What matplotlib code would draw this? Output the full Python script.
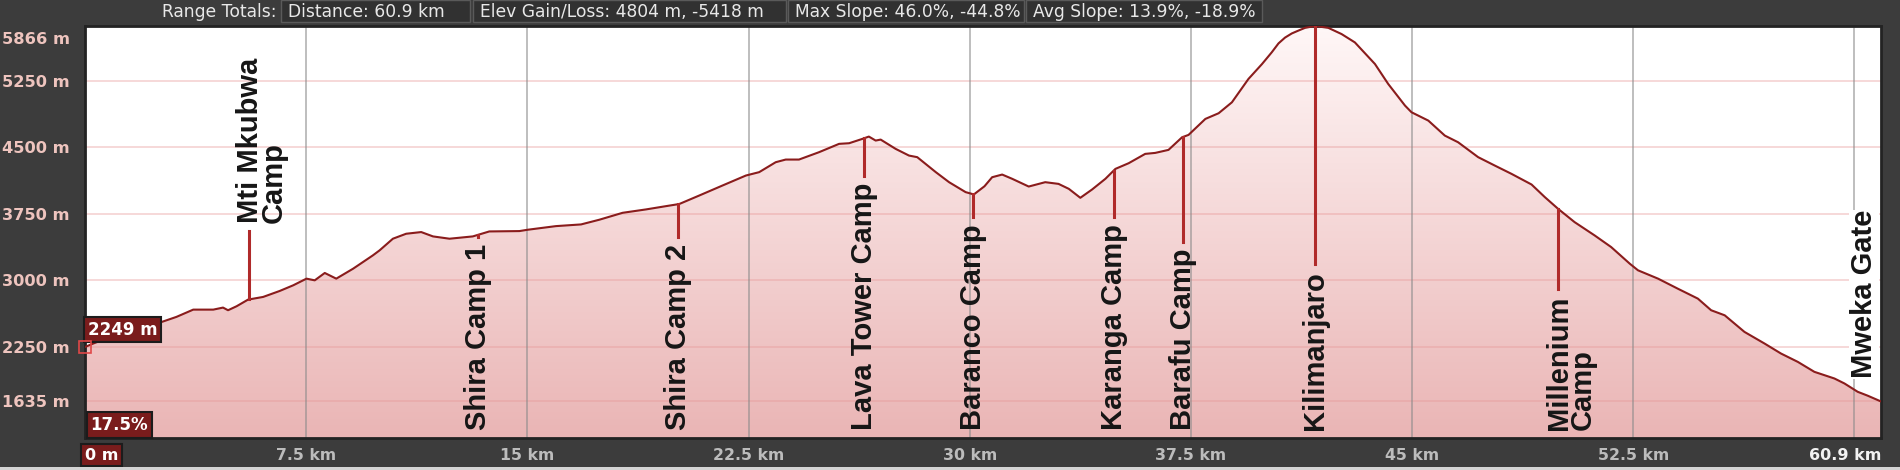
import matplotlib
matplotlib.use('Agg')
import matplotlib.pyplot as plt
import matplotlib.transforms as mtransforms
from matplotlib.patches import Rectangle, Polygon
from matplotlib.colors import to_rgb
import numpy as np

# Elevation profile (distance km, elevation m)
dist_km = [0.0, 0.28, 1.0, 1.8, 2.6, 3.1, 3.67, 4.35, 4.68, 4.85, 5.14, 5.53, 6.04, 6.6,
           7.06, 7.51, 7.79, 8.13, 8.52, 9.09, 9.76, 9.99, 10.44, 10.89, 11.4, 11.8,
           12.36, 13.15, 13.71, 14.73, 15.01, 15.97, 16.82, 17.44, 18.23, 19.02, 19.7,
           20.15, 20.83, 21.62, 22.41, 22.86, 23.42, 23.76, 24.21, 24.89, 25.57, 25.91,
           26.36, 26.58, 26.81, 26.98, 27.49, 27.94, 28.22, 28.85, 29.3, 29.86, 30.14,
           30.5, 30.76, 31.1, 31.44, 32.0, 32.56, 33.01, 33.36, 33.75, 34.15, 34.6,
           34.94, 35.39, 35.95, 36.29, 36.74, 37.2, 37.42, 37.99, 38.44, 38.89, 39.45,
           39.91, 40.24, 40.47, 40.69, 40.92, 41.15, 41.37, 41.71, 42.16, 42.61, 43.06,
           43.74, 44.19, 44.76,
           44.98, 45.55, 46.11, 46.56, 47.24, 47.8, 48.37, 49.05, 49.5, 49.95, 50.51,
           51.19, 51.75, 52.38, 52.66, 53.34, 54.01, 54.69, 55.14, 55.6, 56.27, 56.95,
           57.51, 58.08, 58.64, 59.32, 59.66, 60.11, 60.45, 60.9]
elev_m = [2249, 2288, 2380, 2460, 2531, 2588, 2670, 2670, 2693, 2663, 2708, 2783, 2813, 2880,
          2944, 3019, 3000, 3083, 3019, 3131, 3281, 3338, 3469, 3525, 3544, 3495,
          3469, 3495, 3551, 3555, 3570, 3611, 3630, 3683, 3761, 3799, 3836,
          3860, 3956, 4069, 4181, 4219, 4331, 4361, 4361, 4444, 4538, 4545,
          4594, 4620, 4575, 4586, 4481, 4406, 4388, 4219, 4106, 3994, 3968,
          4060, 4162, 4192, 4144, 4057, 4106, 4087, 4031, 3930, 4024, 4144,
          4256, 4320, 4425, 4436, 4470, 4612, 4639, 4819, 4883, 5006, 5269,
          5437, 5569, 5670, 5735, 5782, 5815, 5845, 5866, 5845, 5775, 5681,
          5438, 5213, 4969,
          4894, 4800, 4631, 4556, 4388, 4294, 4200, 4080, 3938, 3806, 3656,
          3506, 3375, 3188, 3113, 3019, 2906, 2794, 2663, 2606, 2419, 2288,
          2175, 2081, 1969, 1894, 1838, 1744, 1700, 1635]

waypoint_names = ['Mti Mkubwa\nCamp', 'Shira Camp 1', 'Shira Camp 2', 'Lava Tower Camp',
                  'Baranco Camp', 'Karanga Camp', 'Barafu Camp', 'Kilimanjaro',
                  'Millenium\nCamp', 'Mweka Gate']
waypoint_km = [5.56, 13.31, 20.12, 26.41, 30.12, 34.88, 37.22, 41.71, 49.95, 60.9]

y_ticks = [1635, 2250, 3000, 3750, 4500, 5250, 5866]
x_ticks = [7.5, 15, 22.5, 30, 37.5, 45, 52.5]
x_grid = [7.5, 15, 22.5, 30, 37.5, 45, 52.5, 60]
total_km = 60.9
start_elev = 2249
start_slope = '17.5%'

header_title = 'Range Totals:'
header_items = ['Distance: 60.9 km', 'Elev Gain/Loss: 4804 m, -5418 m',
                'Max Slope: 46.0%, -44.8%', 'Avg Slope: 13.9%, -18.9%']

BG = '#3c3c3c'
W, H = 1900, 470
y_min = 1220

fig = plt.figure(figsize=(W / 100, H / 100), dpi=100, facecolor=BG)
ax = fig.add_axes([85 / W, (H - 438.3) / H, (1881 - 85) / W, (438.3 - 26) / H])
ax.set_facecolor('white')
ax.set_xlim(0, total_km)
ax.set_ylim(y_min, 5866)

# gradient fill under the profile
top_c = np.array(to_rgb('#fff7f7'))
bot_c = np.array(to_rgb('#eab5b5'))
t = np.linspace(0, 1, 256)[:, None]
grad = (top_c * (1 - t) + bot_c * t)[:, None, :]
im = ax.imshow(grad, extent=(0, total_km, y_min, 5866), aspect='auto',
               origin='upper', zorder=1)
verts = [(0, y_min)] + list(zip(dist_km, elev_m)) + [(total_km, y_min)]
clip = Polygon(verts, closed=True, fc='none', ec='none', transform=ax.transData)
ax.add_patch(clip)
im.set_clip_path(clip)

# grid
for v in y_ticks[:-1]:
    ax.axhline(v, color='#e89a9a', alpha=0.45, lw=1.2, zorder=2)
for v in x_grid:
    ax.axvline(v, color='#8a8a8a', alpha=0.65, lw=1.2, zorder=2)

ax.plot(dist_km, elev_m, color='#8a1c1c', lw=1.5, zorder=3)

# axes styling
for s in ax.spines.values():
    s.set_color('#232323')
    s.set_linewidth(2)
ax.tick_params(length=0)
ax.set_yticks(y_ticks)
ax.set_yticklabels([f'{v} m' for v in y_ticks], color='#eec4be',
                   fontsize=11.7, fontweight='bold', family='DejaVu Sans')
ax.tick_params(axis='y', pad=11)
top_lab = ax.get_yticklabels()[-1]
top_lab.set_transform(top_lab.get_transform() +
                      mtransforms.ScaledTranslation(0, -12 / 100, fig.dpi_scale_trans))
ax.set_xticks(x_ticks)
ax.set_xticklabels([f'{v:g} km' for v in x_ticks], color='#bcbcbc',
                   fontsize=11.3, fontweight='bold', family='DejaVu Sans')
ax.tick_params(axis='x', pad=7)

ax.text(1.0, -0.041, f'{total_km} km', transform=ax.transAxes, ha='right', va='center',
        color='#f2f2f2', fontsize=11.5, fontweight='bold')
box_style = dict(boxstyle='square,pad=0.22', fc='#7a1c1c', ec='#1c1c1c', lw=1.5)
ax.text(0.0, -0.041, '0 m', transform=ax.transAxes, ha='left', va='center',
        color='white', fontsize=11.5, fontweight='bold', bbox=box_style, zorder=6,
        clip_on=False)
ax.text(0.003, 0.032, start_slope, transform=ax.transAxes, ha='left', va='center',
        color='white', fontsize=12, fontweight='bold', bbox=box_style, zorder=6)
ax.annotate(f'{start_elev} m', xy=(0, start_elev), xytext=(2, 12.5),
            textcoords='offset points', ha='left', va='center', color='white',
            fontsize=12, fontweight='bold', bbox=box_style, zorder=6)
ax.plot([0], [start_elev], marker='s', ms=8, mfc='none', mec='#e04848', mew=1.2,
        clip_on=False, zorder=7)

# waypoint labels
label_font = dict(family=['Liberation Sans', 'DejaVu Sans'], fontsize=21,
                  fontweight='bold', color='#161616')
marker_col = '#b02a2a'
above = {'Mti Mkubwa\nCamp': (68, 0), 'Mweka Gate': (15, -17)}
fig.canvas.draw()
for name, k in zip(waypoint_names, waypoint_km):
    e = np.interp(k, dist_km, elev_m)
    px, py = ax.transData.transform((k, e))
    two_line = '\n' in name
    shift = 13 if two_line else 0
    if name in above:
        rise, dx = above[name]
        if name != 'Mweka Gate':
            p0 = ax.transData.inverted().transform((px, py + rise))
            ax.plot([k, k], [e, p0[1]], color=marker_col, lw=2.2, zorder=4)
        ax.annotate(name, xy=(k, e), xytext=((dx + shift) * 0.72, (rise + 8) * 0.72),
                    textcoords='offset points', rotation=90, ha='center', va='bottom',
                    multialignment='left', linespacing=0.82, zorder=5,
                    bbox=dict(fc='white', ec='none', pad=0.5) if name == 'Mweka Gate' else None,
                    **label_font)
    else:
        tx = ax.annotate(name, xy=(k, 0.02), xycoords=('data', 'axes fraction'),
                         xytext=(shift * 0.72, 0), textcoords='offset points',
                         rotation=90, ha='center', va='bottom', multialignment='left',
                         linespacing=0.82, zorder=5, **label_font)
        bb = tx.get_window_extent(renderer=fig.canvas.get_renderer())
        end_y = bb.y1 + 7
        if py > end_y:
            p1 = ax.transData.inverted().transform((px, end_y))
            ax.plot([k, k], [e, p1[1]], color=marker_col, lw=2.2, zorder=4)

# header bar
fig.text(277 / W, 1 - 12 / H, header_title, ha='right', va='center', color='#e8e8e8',
         fontsize=12.3, family='DejaVu Sans')
box_left = [281, 473, 788, 1026]
box_right = [470, 786, 1024, 1262]
for txt, l, r in zip(header_items, box_left, box_right):
    fig.add_artist(Rectangle((l / W, 1 - 22 / H), (r - l) / W, 22 / H,
                             transform=fig.transFigure, fc='#313131', ec='#5a5a5a', lw=1))
    fig.text((l + 7) / W, 1 - 12 / H, txt, ha='left', va='center', color='#e8e8e8',
             fontsize=12.3, family='DejaVu Sans')

fig.add_artist(Rectangle((0, 0), 1, 3 / H, transform=fig.transFigure,
                         fc='#d4d4d4', ec='none'))

fig.savefig('out.png', dpi=100, facecolor=BG)
